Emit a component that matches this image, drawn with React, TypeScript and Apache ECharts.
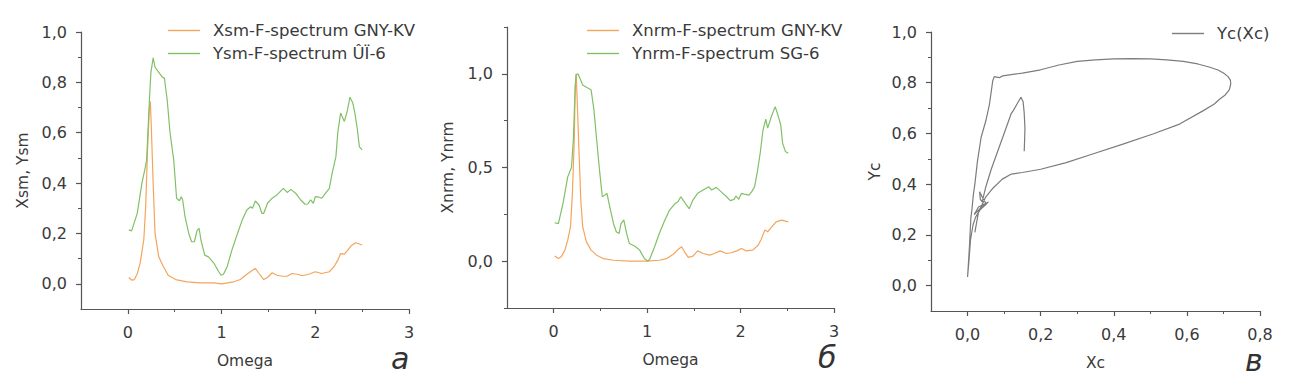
import React, { useEffect, useRef } from "react";
import * as echarts from "echarts";

// Panel а: Xsm / Ysm spectra
const xsmOmega = [0.01,0.04,0.07,0.10,0.13,0.17,0.19,0.21,0.23,0.24,0.25,0.27,0.29,0.33,0.38,0.43,0.51,0.63,0.77,0.92,1.0,1.13,1.20,1.27,1.33,1.36,1.40,1.45,1.49,1.54,1.59,1.65,1.70,1.75,1.81,1.86,1.93,2.0,2.07,2.15,2.20,2.24,2.27,2.31,2.34,2.38,2.43,2.47,2.50];
const xsmValues = [0.025,0.015,0.017,0.04,0.08,0.174,0.306,0.53,0.70,0.724,0.625,0.40,0.20,0.107,0.068,0.034,0.017,0.008,0.004,0.004,0,0.008,0.017,0.038,0.054,0.061,0.041,0.017,0.025,0.044,0.034,0.03,0.03,0.041,0.038,0.032,0.038,0.048,0.041,0.048,0.068,0.094,0.12,0.118,0.131,0.15,0.163,0.158,0.154];
const ysmOmega = [0.01,0.04,0.10,0.15,0.185,0.20,0.23,0.246,0.27,0.29,0.33,0.37,0.39,0.42,0.45,0.49,0.52,0.55,0.57,0.585,0.61,0.65,0.68,0.71,0.74,0.76,0.78,0.82,0.86,0.92,0.97,0.995,1.02,1.06,1.11,1.17,1.22,1.27,1.31,1.33,1.36,1.40,1.43,1.45,1.49,1.54,1.59,1.66,1.70,1.74,1.79,1.84,1.89,1.92,1.95,1.98,2.00,2.04,2.07,2.11,2.15,2.18,2.22,2.24,2.27,2.31,2.34,2.37,2.40,2.42,2.45,2.47,2.50];
const ysmValues = [0.214,0.21,0.28,0.40,0.46,0.49,0.73,0.84,0.897,0.86,0.84,0.82,0.817,0.73,0.60,0.49,0.34,0.33,0.346,0.333,0.267,0.20,0.167,0.167,0.213,0.22,0.174,0.114,0.107,0.081,0.048,0.034,0.038,0.068,0.134,0.20,0.253,0.293,0.306,0.30,0.329,0.313,0.28,0.28,0.32,0.34,0.353,0.379,0.363,0.375,0.36,0.335,0.316,0.317,0.333,0.32,0.346,0.344,0.34,0.36,0.379,0.44,0.505,0.60,0.678,0.645,0.684,0.741,0.718,0.684,0.611,0.545,0.532];

// Panel б: normalized spectra
const xnrmOmega = [0.01,0.05,0.08,0.12,0.15,0.18,0.20,0.22,0.23,0.24,0.25,0.27,0.29,0.31,0.35,0.40,0.46,0.53,0.64,0.81,0.99,1.13,1.21,1.28,1.33,1.37,1.40,1.44,1.49,1.54,1.60,1.67,1.72,1.78,1.85,1.90,1.96,2.01,2.06,2.13,2.19,2.22,2.26,2.29,2.33,2.38,2.44,2.51];
const xnrmValues = [0.027,0.014,0.023,0.059,0.112,0.184,0.362,0.647,0.93,1.0,0.88,0.594,0.326,0.184,0.103,0.059,0.032,0.014,0.005,0,0,0.005,0.014,0.037,0.062,0.077,0.05,0.02,0.027,0.055,0.041,0.032,0.041,0.055,0.041,0.045,0.055,0.068,0.055,0.059,0.086,0.116,0.166,0.157,0.18,0.21,0.219,0.21];
const ynrmOmega = [0.01,0.05,0.10,0.15,0.19,0.21,0.23,0.24,0.26,0.28,0.31,0.37,0.40,0.43,0.46,0.49,0.52,0.55,0.57,0.60,0.64,0.67,0.70,0.72,0.75,0.78,0.81,0.87,0.92,0.97,1.01,1.03,1.08,1.13,1.19,1.24,1.30,1.33,1.36,1.38,1.42,1.45,1.49,1.54,1.60,1.66,1.69,1.74,1.79,1.85,1.89,1.93,1.95,1.98,2.01,2.04,2.09,2.12,2.15,2.18,2.21,2.24,2.27,2.29,2.33,2.37,2.40,2.43,2.45,2.48,2.51];
const ynrmValues = [0.205,0.20,0.31,0.45,0.50,0.647,0.93,0.995,1.0,0.977,0.94,0.923,0.915,0.81,0.647,0.487,0.344,0.353,0.362,0.29,0.20,0.157,0.148,0.20,0.22,0.148,0.094,0.08,0.059,0.014,0.0,0.014,0.077,0.148,0.22,0.273,0.308,0.317,0.344,0.33,0.30,0.28,0.326,0.362,0.38,0.397,0.38,0.394,0.371,0.344,0.323,0.33,0.348,0.33,0.362,0.358,0.353,0.371,0.397,0.478,0.576,0.70,0.758,0.71,0.772,0.825,0.78,0.727,0.63,0.585,0.576];

// Panel в: Yc(Xc) parametric curve
const xcValues = [0.02,0.025,0.03,0.04,0.05,0.07,0.095,0.12,0.15,0.2,0.27,0.34,0.425,0.507,0.58,0.645,0.675,0.69,0.705,0.716,0.72,0.719,0.712,0.70,0.685,0.663,0.63,0.59,0.545,0.5,0.45,0.4,0.35,0.3,0.25,0.2,0.15,0.096,0.087,0.073,0.069,0.06,0.05,0.037,0.027,0.02,0.016,0.012,0.009,0.005,0.002,0.0,0.004,0.008,0.015,0.022,0.035,0.05,0.057,0.045,0.025,0.018,0.03,0.05,0.04,0.033,0.035,0.04,0.05,0.065,0.08,0.1,0.119,0.125,0.135,0.146,0.152,0.155,0.157,0.156,0.155];
const ycValues = [0.21,0.25,0.29,0.32,0.35,0.385,0.42,0.44,0.446,0.459,0.485,0.518,0.558,0.598,0.637,0.69,0.716,0.736,0.752,0.772,0.795,0.81,0.825,0.838,0.85,0.861,0.874,0.884,0.89,0.894,0.895,0.894,0.89,0.884,0.87,0.851,0.838,0.827,0.82,0.824,0.808,0.716,0.65,0.584,0.49,0.40,0.36,0.30,0.267,0.149,0.08,0.034,0.10,0.18,0.24,0.27,0.30,0.32,0.33,0.32,0.29,0.28,0.31,0.325,0.35,0.37,0.34,0.33,0.39,0.46,0.52,0.6,0.677,0.69,0.715,0.743,0.725,0.68,0.62,0.57,0.53];

// Tick labels
const omegaTicks = [0, 1, 2, 3];
const omegaMinor = [0.5, 1.5, 2.5];
const yTicksA = [0, 0.2, 0.4, 0.6, 0.8, 1.0];
const yMinorA = [0.1, 0.3, 0.5, 0.7, 0.9];
const yTicksB = [0, 0.5, 1.0];
const yMinorB = [-0.25, 0.25, 0.75, 1.25];
const xTicksC = [0, 0.2, 0.4, 0.6, 0.8];
const xMinorC = [0.1, 0.3, 0.5, 0.7];

const legendA = ["Xsm-F-spectrum GNY-KV", "Ysm-F-spectrum ÛÏ-6"];
const legendB = ["Xnrm-F-spectrum GNY-KV", "Ynrm-F-spectrum SG-6"];
const legendC = ["Yc(Xc)"];

const FONT = "DejaVu Sans";
const AXIS = "#555";
const TEXT = "#3a3a3a";
const ORANGE = "#F3A55C";
const GREEN = "#80C066";
const GRAY = "#7c7c7c";

const pairs = (xs: number[], ys: number[]) => xs.map((x, i) => [x, ys[i]]);
const comma1 = (v: number) => (Math.abs(v) < 1e-9 ? 0 : v).toFixed(1).replace(".", ",");
const intFmt = (v: number) => String(Math.round(v));

function axisPair(
  gridIndex: number, position: string, min: number, max: number, majors: number[], minors: number[],
  fmt: (v: number) => string, name: string, nameGap: number, labelMargin: number
) {
  const main = {
    type: "value", gridIndex, position, min, max, name, nameLocation: "middle", nameGap,
    nameTextStyle: { fontSize: 15.5, color: TEXT, fontFamily: FONT },
    axisLine: { show: true, onZero: false, lineStyle: { color: AXIS, width: 1.2 } },
    axisTick: { show: true, inside: false, length: 5, customValues: majors, lineStyle: { color: AXIS, width: 1.2 } },
    axisLabel: { show: true, customValues: majors, formatter: fmt, fontSize: 16, color: TEXT, fontFamily: FONT, margin: labelMargin },
    splitLine: { show: false },
  };
  const minor = {
    type: "value", gridIndex, position, offset: 0, min, max,
    axisLine: { show: false, onZero: false },
    axisTick: { show: true, inside: false, length: 3, customValues: minors, lineStyle: { color: AXIS, width: 1 } },
    axisLabel: { show: false, customValues: minors },
    splitLine: { show: false },
  };
  return [main, minor];
}

export default function App() {
  const ref = useRef<HTMLDivElement>(null);
  useEffect(() => {
    document.body.style.margin = "0";
    const chart = echarts.init(ref.current!, undefined, { renderer: "svg" });
    const legendBase = {
      orient: "vertical", padding: 0, itemWidth: 32, itemHeight: 1.4, itemGap: 6, icon: "rect",
      textStyle: { fontSize: 16.5, color: TEXT, fontFamily: FONT, padding: [0, 0, 0, 8], lineHeight: 15 },
    };
    const lineSeries = (name: string, data: number[][], color: string, idx: number) => ({
      name, type: "line", data, xAxisIndex: idx * 2, yAxisIndex: idx * 2,
      symbol: "none", showSymbol: false, smooth: false,
      lineStyle: { color, width: 1.2 }, itemStyle: { color },
    });
    chart.setOption({
      animation: false,
      backgroundColor: "#fff",
      textStyle: { fontFamily: FONT },
      grid: [
        { left: 81, top: 32, width: 328, height: 277 },
        { left: 507, top: 27, width: 327, height: 281 },
        { left: 931, top: 32, width: 329, height: 279 },
      ],
      xAxis: [
        ...axisPair(0, "bottom", -0.5, 3, omegaTicks, omegaMinor, intFmt, "Omega", 44, 15),
        ...axisPair(1, "bottom", -0.5, 3, omegaTicks, omegaMinor, intFmt, "Omega", 44, 15),
        ...axisPair(2, "bottom", -0.1, 0.8, xTicksC, xMinorC, comma1, "Xc", 44, 15),
      ],
      yAxis: [
        ...axisPair(0, "left", -0.1, 1.0, yTicksA, yMinorA, comma1, "Xsm, Ysm", 50, 14),
        ...axisPair(1, "left", -0.25, 1.25, yTicksB, yMinorB, comma1, "Xnrm, Ynrm", 51, 14),
        ...axisPair(2, "left", -0.1, 1.0, yTicksA, yMinorA, comma1, "Yc", 48, 14),
      ],
      legend: [
        { ...legendBase, data: legendA, left: 168, top: 22 },
        { ...legendBase, data: legendB, left: 587, top: 22 },
        { ...legendBase, data: legendC, left: 1172, top: 25 },
      ],
      series: [
        lineSeries(legendA[0], pairs(xsmOmega, xsmValues), ORANGE, 0),
        lineSeries(legendA[1], pairs(ysmOmega, ysmValues), GREEN, 0),
        lineSeries(legendB[0], pairs(xnrmOmega, xnrmValues), ORANGE, 1),
        lineSeries(legendB[1], pairs(ynrmOmega, ynrmValues), GREEN, 1),
        lineSeries(legendC[0], pairs(xcValues, ycValues), GRAY, 2),
      ],
      graphic: [
        { type: "text", left: 391, top: 343, style: { text: "а", fontSize: 30, lineHeight: 28, fontStyle: "italic", fontFamily: FONT, fill: "#333" } },
        { type: "text", left: 818, top: 342, style: { text: "б", fontSize: 30, lineHeight: 28, fontStyle: "italic", fontFamily: FONT, fill: "#333" } },
        { type: "text", left: 1245, top: 345, style: { text: "в", fontSize: 30, lineHeight: 28, fontStyle: "italic", fontFamily: FONT, fill: "#333" } },
      ],
    });
    return () => chart.dispose();
  }, []);
  return <div ref={ref} style={{ width: 1300, height: 384 }} />;
}
